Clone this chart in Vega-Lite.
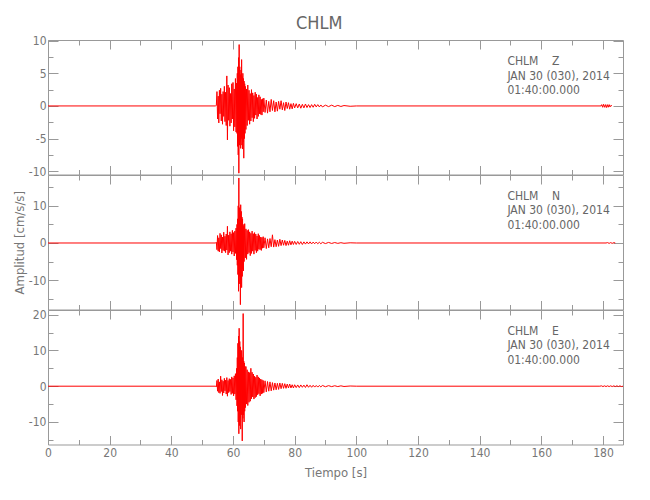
{
  "$schema": "https://vega.github.io/schema/vega-lite/v6.json",
  "background": "white",
  "padding": {"left": 12, "top": 14, "right": 5, "bottom": 5},
  "title": {"text": "CHLM", "fontSize": 18, "font": "Liberation Sans Narrow, DejaVu Sans Condensed, sans-serif", "fontWeight": "normal", "color": "#666666", "anchor": "middle", "offset": 1.5},
  "spacing": 0,
  "bounds": "flush",
  "config": {
    "view": {"stroke": "#999999", "strokeWidth": 1},
    "axis": {"domain": false, "grid": false, "tickColor": "#999999", "tickWidth": 1, "labelColor": "#777777", "labelFont": "Liberation Sans Narrow, DejaVu Sans Condensed, sans-serif", "labelFontSize": 12, "titleFont": "Liberation Sans Narrow, DejaVu Sans Condensed, sans-serif", "titleFontSize": 13, "titleFontWeight": "normal", "titleColor": "#777777", "minExtent": 0, "labelFlush": false, "labelOverlap": false, "labelBound": false}
  },
  "datasets": {
    "Z": [
      {"t":0,"a":0},{"t":54.4,"a":0},{"t":54.6,"a":0.1},{"t":54.8,"a":2.2},{"t":55.0,"a":-2.0},{"t":55.2,"a":1.5},{"t":55.4,"a":-2.6},{"t":55.6,"a":2.4},{"t":55.8,"a":-1.2},{"t":56.0,"a":2.7},{"t":56.2,"a":-2.3},{"t":56.4,"a":1.8},{"t":56.6,"a":-2.8},{"t":56.8,"a":2.2},{"t":57.0,"a":-1.6},{"t":57.2,"a":3.0},{"t":57.4,"a":-2.4},{"t":57.6,"a":2.1},{"t":57.8,"a":-3.0},{"t":58.0,"a":4.6},{"t":58.2,"a":-5.2},{"t":58.4,"a":3.2},{"t":58.6,"a":-2.2},{"t":58.8,"a":2.8},{"t":59.0,"a":-3.1},{"t":59.2,"a":1.9},{"t":59.4,"a":-2.6},{"t":59.6,"a":3.4},{"t":59.8,"a":-2.0},{"t":60.0,"a":3.6},{"t":60.2,"a":-3.8},{"t":60.4,"a":2.6},{"t":60.6,"a":-3.2},{"t":60.8,"a":4.2},{"t":61.0,"a":-4.0},{"t":61.2,"a":3.5},{"t":61.3,"a":-4.2},{"t":61.4,"a":5.0},{"t":61.5,"a":-6.2},{"t":61.6,"a":6.0},{"t":61.7,"a":-7.5},{"t":61.8,"a":7.4},{"t":61.9,"a":-10.3},{"t":62.0,"a":9.4},{"t":62.1,"a":-6.0},{"t":62.2,"a":6.0},{"t":62.3,"a":-5.5},{"t":62.4,"a":4.8},{"t":62.5,"a":-6.5},{"t":62.6,"a":5.5},{"t":62.7,"a":-5.0},{"t":62.8,"a":7.1},{"t":62.9,"a":-6.0},{"t":63.0,"a":4.5},{"t":63.1,"a":-6.6},{"t":63.2,"a":5.0},{"t":63.3,"a":-5.5},{"t":63.4,"a":4.2},{"t":63.5,"a":-8.0},{"t":63.6,"a":3.8},{"t":63.7,"a":-5.0},{"t":63.8,"a":3.4},{"t":63.9,"a":-4.2},{"t":64.0,"a":3.0},{"t":64.2,"a":-3.6},{"t":64.4,"a":2.6},{"t":64.6,"a":-3.0},{"t":64.8,"a":3.2},{"t":65.0,"a":-2.2},{"t":65.2,"a":2.4},{"t":65.4,"a":-2.8},{"t":65.6,"a":1.9},{"t":65.8,"a":-2.3},{"t":66.0,"a":2.5},{"t":66.2,"a":-1.8},{"t":66.4,"a":2.0},{"t":66.6,"a":-2.4},{"t":66.8,"a":1.6},{"t":67.0,"a":-1.9},{"t":67.2,"a":2.1},{"t":67.4,"a":-1.4},{"t":67.6,"a":1.8},{"t":67.8,"a":-2.0},{"t":68.0,"a":1.3},{"t":68.2,"a":-1.6},{"t":68.4,"a":1.7},{"t":68.6,"a":-1.2},{"t":68.8,"a":1.4},{"t":69.0,"a":-1.3},{"t":69.2,"a":1.0},{"t":69.4,"a":-1.4},{"t":69.6,"a":1.1},{"t":69.8,"a":-0.9},{"t":70.0,"a":1.2},{"t":70.4,"a":-1.0},{"t":70.8,"a":0.9},{"t":71.2,"a":-1.1},{"t":71.6,"a":0.7},{"t":72.0,"a":-0.9},{"t":72.4,"a":1.0},{"t":72.8,"a":-0.7},{"t":73.2,"a":0.8},{"t":73.6,"a":-0.9},{"t":74.0,"a":0.6},{"t":74.4,"a":-0.8},{"t":74.8,"a":0.7},{"t":75.2,"a":-0.5},{"t":75.6,"a":0.8},{"t":76.0,"a":-0.6},{"t":76.4,"a":0.5},{"t":76.8,"a":-0.7},{"t":77.2,"a":0.6},{"t":77.6,"a":-0.4},{"t":78.0,"a":0.5},{"t":78.4,"a":-0.5},{"t":78.8,"a":0.35},{"t":79.2,"a":-0.45},{"t":79.6,"a":0.4},{"t":80.0,"a":-0.3},{"t":80.5,"a":0.35},{"t":81.0,"a":-0.3},{"t":81.5,"a":0.3},{"t":82.0,"a":-0.35},{"t":82.5,"a":0.25},{"t":83.0,"a":-0.3},{"t":83.5,"a":0.3},{"t":84.0,"a":-0.25},{"t":84.5,"a":0.2},{"t":85.0,"a":-0.25},{"t":85.5,"a":0.2},{"t":86.0,"a":-0.2},{"t":86.5,"a":0.25},{"t":87.0,"a":-0.15},{"t":87.5,"a":0.2},{"t":88.0,"a":-0.15},{"t":88.5,"a":0.15},{"t":89.0,"a":-0.15},{"t":90.0,"a":0.12},{"t":91.0,"a":-0.1},{"t":92.0,"a":0.12},{"t":93.0,"a":-0.1},{"t":94.0,"a":0.08},{"t":95.0,"a":-0.08},{"t":96.0,"a":0.06},{"t":98.0,"a":-0.05},{"t":100.0,"a":0},{"t":179.4,"a":0},{"t":179.6,"a":0.2},{"t":179.9,"a":-0.2},{"t":180.2,"a":0.25},{"t":180.5,"a":-0.2},{"t":180.8,"a":0.2},{"t":181.1,"a":-0.25},{"t":181.4,"a":0.2},{"t":181.7,"a":-0.2},{"t":182.0,"a":0.2},{"t":182.3,"a":-0.15},{"t":182.6,"a":0.1},{"t":182.9,"a":0}
    ],
    "N": [
      {"t":0,"a":0},{"t":54.4,"a":0},{"t":54.6,"a":0.2},{"t":54.8,"a":-1.8},{"t":55.0,"a":2.0},{"t":55.2,"a":-2.2},{"t":55.4,"a":1.4},{"t":55.6,"a":-2.4},{"t":55.8,"a":2.6},{"t":56.0,"a":-1.5},{"t":56.2,"a":2.2},{"t":56.4,"a":-2.7},{"t":56.6,"a":1.6},{"t":56.8,"a":-2.0},{"t":57.0,"a":2.9},{"t":57.2,"a":-2.2},{"t":57.4,"a":1.8},{"t":57.6,"a":-2.6},{"t":57.8,"a":2.4},{"t":58.0,"a":-1.9},{"t":58.2,"a":4.5},{"t":58.4,"a":-3.2},{"t":58.6,"a":2.1},{"t":58.8,"a":-2.6},{"t":59.0,"a":3.0},{"t":59.2,"a":-2.2},{"t":59.4,"a":2.5},{"t":59.6,"a":-3.0},{"t":59.8,"a":3.4},{"t":60.0,"a":-2.4},{"t":60.2,"a":2.8},{"t":60.4,"a":-3.5},{"t":60.6,"a":3.2},{"t":60.8,"a":-2.8},{"t":61.0,"a":4.0},{"t":61.2,"a":-4.5},{"t":61.3,"a":5.0},{"t":61.4,"a":-6.0},{"t":61.5,"a":6.5},{"t":61.6,"a":-8.5},{"t":61.7,"a":10.0},{"t":61.8,"a":-13.0},{"t":61.9,"a":17.5},{"t":62.0,"a":-9.0},{"t":62.1,"a":9.5},{"t":62.2,"a":-11.0},{"t":62.3,"a":8.0},{"t":62.4,"a":-16.6},{"t":62.5,"a":10.3},{"t":62.6,"a":-10.0},{"t":62.7,"a":8.5},{"t":62.8,"a":-12.0},{"t":62.9,"a":7.0},{"t":63.0,"a":-9.0},{"t":63.1,"a":6.5},{"t":63.2,"a":-7.0},{"t":63.3,"a":5.0},{"t":63.4,"a":-7.5},{"t":63.5,"a":4.5},{"t":63.6,"a":-5.0},{"t":63.8,"a":5.2},{"t":64.0,"a":-4.0},{"t":64.2,"a":3.8},{"t":64.4,"a":-4.4},{"t":64.6,"a":3.4},{"t":64.8,"a":-3.0},{"t":65.0,"a":3.6},{"t":65.2,"a":-2.6},{"t":65.4,"a":3.0},{"t":65.6,"a":-3.4},{"t":65.8,"a":2.6},{"t":66.0,"a":-2.8},{"t":66.2,"a":3.2},{"t":66.4,"a":-2.2},{"t":66.6,"a":2.5},{"t":66.8,"a":-3.0},{"t":67.0,"a":2.8},{"t":67.2,"a":-2.0},{"t":67.4,"a":2.4},{"t":67.6,"a":-2.6},{"t":67.8,"a":1.9},{"t":68.0,"a":-2.2},{"t":68.2,"a":2.5},{"t":68.4,"a":-1.7},{"t":68.6,"a":2.0},{"t":68.8,"a":-1.8},{"t":69.0,"a":1.6},{"t":69.2,"a":-2.0},{"t":69.4,"a":1.5},{"t":69.6,"a":-1.4},{"t":69.8,"a":1.7},{"t":70.0,"a":-1.3},{"t":70.4,"a":1.4},{"t":70.8,"a":-1.5},{"t":71.2,"a":1.1},{"t":71.6,"a":-1.3},{"t":72.0,"a":1.2},{"t":72.4,"a":-1.0},{"t":72.8,"a":2.2},{"t":73.2,"a":-1.1},{"t":73.6,"a":0.9},{"t":74.0,"a":-1.0},{"t":74.4,"a":0.8},{"t":74.8,"a":-0.9},{"t":75.2,"a":1.0},{"t":75.6,"a":-0.7},{"t":76.0,"a":0.8},{"t":76.4,"a":-0.6},{"t":76.8,"a":0.7},{"t":77.2,"a":-0.7},{"t":77.6,"a":0.5},{"t":78.0,"a":-0.6},{"t":78.4,"a":0.6},{"t":78.8,"a":-0.5},{"t":79.2,"a":0.5},{"t":79.6,"a":-0.4},{"t":80.0,"a":0.45},{"t":80.5,"a":-0.4},{"t":81.0,"a":0.4},{"t":81.5,"a":-0.35},{"t":82.0,"a":0.35},{"t":82.5,"a":-0.4},{"t":83.0,"a":0.3},{"t":83.5,"a":-0.3},{"t":84.0,"a":0.3},{"t":84.5,"a":-0.25},{"t":85.0,"a":0.3},{"t":85.5,"a":-0.25},{"t":86.0,"a":0.25},{"t":86.5,"a":-0.2},{"t":87.0,"a":0.25},{"t":87.5,"a":-0.2},{"t":88.0,"a":0.2},{"t":88.5,"a":-0.2},{"t":89.0,"a":0.18},{"t":90.0,"a":-0.15},{"t":91.0,"a":0.15},{"t":92.0,"a":-0.12},{"t":93.0,"a":0.12},{"t":94.0,"a":-0.1},{"t":95.0,"a":0.08},{"t":96.0,"a":-0.08},{"t":98.0,"a":0.05},{"t":100.0,"a":0},{"t":181.0,"a":0},{"t":181.5,"a":0.1},{"t":182.0,"a":-0.1},{"t":182.5,"a":0.1},{"t":183.0,"a":-0.1},{"t":183.5,"a":0.1},{"t":184.0,"a":0}
    ],
    "E": [
      {"t":0,"a":0},{"t":54.4,"a":0},{"t":54.6,"a":-0.2},{"t":54.8,"a":1.6},{"t":55.0,"a":-1.4},{"t":55.2,"a":2.0},{"t":55.4,"a":-1.8},{"t":55.6,"a":1.2},{"t":55.8,"a":-2.0},{"t":56.0,"a":2.8},{"t":56.2,"a":-1.5},{"t":56.4,"a":1.8},{"t":56.6,"a":-2.6},{"t":56.8,"a":1.4},{"t":57.0,"a":-1.9},{"t":57.2,"a":2.2},{"t":57.4,"a":-1.3},{"t":57.6,"a":1.7},{"t":57.8,"a":-2.2},{"t":58.0,"a":2.4},{"t":58.2,"a":-2.8},{"t":58.4,"a":1.6},{"t":58.6,"a":-1.8},{"t":58.8,"a":2.1},{"t":59.0,"a":-1.5},{"t":59.2,"a":1.9},{"t":59.4,"a":-2.3},{"t":59.6,"a":2.6},{"t":59.8,"a":-2.0},{"t":60.0,"a":2.3},{"t":60.2,"a":-2.7},{"t":60.4,"a":2.9},{"t":60.6,"a":-2.2},{"t":60.8,"a":3.5},{"t":61.0,"a":-3.8},{"t":61.2,"a":5.0},{"t":61.3,"a":-5.5},{"t":61.4,"a":8.0},{"t":61.5,"a":-7.0},{"t":61.6,"a":12.0},{"t":61.7,"a":-10.0},{"t":61.8,"a":14.0},{"t":61.9,"a":-13.3},{"t":62.0,"a":16.2},{"t":62.1,"a":-11.0},{"t":62.2,"a":12.5},{"t":62.3,"a":-9.0},{"t":62.4,"a":11.0},{"t":62.5,"a":-12.0},{"t":62.6,"a":9.0},{"t":62.7,"a":-8.0},{"t":62.8,"a":10.0},{"t":62.9,"a":7.5},{"t":63.0,"a":-15.3},{"t":63.1,"a":8.0},{"t":63.2,"a":-9.0},{"t":63.3,"a":20.3},{"t":63.4,"a":-8.0},{"t":63.5,"a":7.0},{"t":63.6,"a":-10.0},{"t":63.7,"a":6.5},{"t":63.8,"a":-7.0},{"t":63.9,"a":5.5},{"t":64.0,"a":-6.0},{"t":64.2,"a":5.5},{"t":64.4,"a":-5.0},{"t":64.6,"a":4.6},{"t":64.8,"a":-5.4},{"t":65.0,"a":4.0},{"t":65.2,"a":-4.5},{"t":65.4,"a":3.8},{"t":65.6,"a":-4.2},{"t":65.8,"a":5.0},{"t":66.0,"a":-3.5},{"t":66.2,"a":3.9},{"t":66.4,"a":-3.0},{"t":66.6,"a":3.4},{"t":66.8,"a":-3.6},{"t":67.0,"a":2.8},{"t":67.2,"a":-3.2},{"t":67.4,"a":2.5},{"t":67.6,"a":-2.9},{"t":67.8,"a":3.1},{"t":68.0,"a":-2.4},{"t":68.2,"a":2.6},{"t":68.4,"a":-2.1},{"t":68.6,"a":2.3},{"t":68.8,"a":-2.7},{"t":69.0,"a":2.0},{"t":69.2,"a":-2.2},{"t":69.4,"a":1.8},{"t":69.6,"a":-2.0},{"t":69.8,"a":1.6},{"t":70.0,"a":-1.8},{"t":70.4,"a":1.5},{"t":70.8,"a":-1.6},{"t":71.2,"a":1.3},{"t":71.6,"a":-1.4},{"t":72.0,"a":1.2},{"t":72.4,"a":-1.3},{"t":72.8,"a":1.0},{"t":73.2,"a":-1.1},{"t":73.6,"a":0.9},{"t":74.0,"a":-1.0},{"t":74.4,"a":0.8},{"t":74.8,"a":-0.9},{"t":75.2,"a":0.9},{"t":75.6,"a":-0.7},{"t":76.0,"a":0.8},{"t":76.4,"a":-0.6},{"t":76.8,"a":0.7},{"t":77.2,"a":-0.6},{"t":77.6,"a":0.6},{"t":78.0,"a":-0.5},{"t":78.4,"a":0.6},{"t":78.8,"a":-0.5},{"t":79.2,"a":0.4},{"t":79.6,"a":-0.5},{"t":80.0,"a":0.4},{"t":80.5,"a":-0.4},{"t":81.0,"a":0.35},{"t":81.5,"a":-0.4},{"t":82.0,"a":0.35},{"t":82.5,"a":-0.3},{"t":83.0,"a":0.3},{"t":83.5,"a":-0.35},{"t":84.0,"a":0.4},{"t":84.5,"a":-0.3},{"t":85.0,"a":0.25},{"t":85.5,"a":-0.3},{"t":86.0,"a":0.25},{"t":86.5,"a":-0.25},{"t":87.0,"a":0.2},{"t":87.5,"a":-0.25},{"t":88.0,"a":0.2},{"t":88.5,"a":-0.2},{"t":89.0,"a":0.2},{"t":90.0,"a":-0.15},{"t":91.0,"a":0.15},{"t":92.0,"a":-0.12},{"t":93.0,"a":0.12},{"t":94.0,"a":-0.1},{"t":95.0,"a":0.1},{"t":96.0,"a":-0.08},{"t":98.0,"a":0.05},{"t":100.0,"a":0},{"t":179.0,"a":0},{"t":179.5,"a":0.1},{"t":180.0,"a":-0.1},{"t":180.5,"a":0.1},{"t":181.0,"a":-0.1},{"t":181.5,"a":0.1},{"t":182.0,"a":-0.1},{"t":182.5,"a":0.1},{"t":183.0,"a":-0.1},{"t":183.5,"a":0.1},{"t":184.0,"a":-0.1},{"t":184.5,"a":0.1},{"t":185.0,"a":-0.1},{"t":185.5,"a":0.1},{"t":186.0,"a":-0.1},{"t":186.5,"a":0}
    ],
    "ann": [
      {"p":"Z","t":149,"a":6.88,"s":"CHLM\u00a0\u00a0\u00a0\u00a0Z"},
      {"p":"Z","t":149,"a":4.66,"s":"JAN 30 (030), 2014"},
      {"p":"Z","t":149,"a":2.44,"s":"01:40:00.000"},
      {"p":"N","t":149,"a":12.65,"s":"CHLM\u00a0\u00a0\u00a0\u00a0N"},
      {"p":"N","t":149,"a":8.75,"s":"JAN 30 (030), 2014"},
      {"p":"N","t":149,"a":4.84,"s":"01:40:00.000"},
      {"p":"E","t":149,"a":15.43,"s":"CHLM\u00a0\u00a0\u00a0\u00a0E"},
      {"p":"E","t":149,"a":11.38,"s":"JAN 30 (030), 2014"},
      {"p":"E","t":149,"a":7.32,"s":"01:40:00.000"}
    ]
  },
  "vconcat": [
    {
      "width": 575, "height": 134.5,
      "layer": [
        {
          "data": {"name": "Z"},
          "mark": {"type": "line", "color": "#ff0000", "strokeWidth": 1},
          "encoding": {
            "x": {"field": "t", "type": "quantitative", "scale": {"domain": [0, 186.5], "nice": false, "zero": false},
                  "axis": {"orient": "bottom", "title": null, "labels": false, "values": [0,10,20,30,40,50,60,70,80,90,100,110,120,130,140,150,160,170,180], "tickSize": {"condition": {"test": "datum.value % 20 === 0", "value": -9}, "value": -5}}},
            "y": {"field": "a", "type": "quantitative", "scale": {"domain": [-10.5, 10.1], "nice": false, "zero": false},
                  "axis": {"orient": "left", "title": null, "values": [-10,-7.5,-5,-2.5,0,2.5,5,7.5,10], "labelExpr": "datum.value % 5 === 0 ? replace(datum.label, '−', '-') : ''", "labelPadding": 12, "tickSize": {"condition": {"test": "datum.value % 5 === 0", "value": -10}, "value": -5}}}
          }
        },
        {
          "data": {"name": "ann"},
          "transform": [{"filter": "datum.p === 'Z'"}],
          "mark": {"type": "text", "align": "left", "baseline": "middle", "font": "Liberation Sans Narrow, DejaVu Sans Condensed, sans-serif", "fontSize": 12, "color": "#666666"},
          "encoding": {
            "x": {"field": "t", "type": "quantitative", "axis": {"orient": "top", "title": null, "labels": false, "values": [0,10,20,30,40,50,60,70,80,90,100,110,120,130,140,150,160,170,180], "tickSize": {"condition": {"test": "datum.value % 20 === 0", "value": -9}, "value": -5}}},
            "y": {"field": "a", "type": "quantitative", "axis": {"orient": "right", "title": null, "labels": false, "values": [-10,-7.5,-5,-2.5,0,2.5,5,7.5,10], "tickSize": {"condition": {"test": "datum.value % 5 === 0", "value": -10}, "value": -5}}},
            "text": {"field": "s", "type": "nominal"}
          }
        }
      ],
      "resolve": {"axis": {"x": "independent", "y": "independent"}}
    },
    {
      "width": 575, "height": 134.5,
      "layer": [
        {
          "data": {"name": "N"},
          "mark": {"type": "line", "color": "#ff0000", "strokeWidth": 1},
          "encoding": {
            "x": {"field": "t", "type": "quantitative", "scale": {"domain": [0, 186.5], "nice": false, "zero": false},
                  "axis": {"orient": "bottom", "title": null, "labels": false, "values": [0,10,20,30,40,50,60,70,80,90,100,110,120,130,140,150,160,170,180], "tickSize": {"condition": {"test": "datum.value % 20 === 0", "value": -9}, "value": -5}}},
            "y": {"field": "a", "type": "quantitative", "scale": {"domain": [-17.9, 18.3], "nice": false, "zero": false},
                  "axis": {"orient": "left", "title": "Amplitud [cm/s/s]", "titlePadding": 2, "values": [-15,-10,-5,0,5,10,15], "labelExpr": "datum.value % 10 === 0 ? replace(datum.label, '−', '-') : ''", "labelPadding": 12, "tickSize": {"condition": {"test": "datum.value % 10 === 0", "value": -10}, "value": -5}}}
          }
        },
        {
          "data": {"name": "ann"},
          "transform": [{"filter": "datum.p === 'N'"}],
          "mark": {"type": "text", "align": "left", "baseline": "middle", "font": "Liberation Sans Narrow, DejaVu Sans Condensed, sans-serif", "fontSize": 12, "color": "#666666"},
          "encoding": {
            "x": {"field": "t", "type": "quantitative", "axis": {"orient": "top", "title": null, "labels": false, "values": [0,10,20,30,40,50,60,70,80,90,100,110,120,130,140,150,160,170,180], "tickSize": {"condition": {"test": "datum.value % 20 === 0", "value": -9}, "value": -5}}},
            "y": {"field": "a", "type": "quantitative", "axis": {"orient": "right", "title": null, "labels": false, "values": [-15,-10,-5,0,5,10,15], "tickSize": {"condition": {"test": "datum.value % 10 === 0", "value": -10}, "value": -5}}},
            "text": {"field": "s", "type": "nominal"}
          }
        }
      ],
      "resolve": {"axis": {"x": "independent", "y": "independent"}}
    },
    {
      "width": 575, "height": 134.5,
      "layer": [
        {
          "data": {"name": "E"},
          "mark": {"type": "line", "color": "#ff0000", "strokeWidth": 1},
          "encoding": {
            "x": {"field": "t", "type": "quantitative", "scale": {"domain": [0, 186.5], "nice": false, "zero": false},
                  "axis": {"orient": "bottom", "title": "Tiempo [s]", "titlePadding": 4, "values": [0,10,20,30,40,50,60,70,80,90,100,110,120,130,140,150,160,170,180], "labelExpr": "datum.value % 20 === 0 ? datum.label : ''", "labelPadding": 12, "tickSize": {"condition": {"test": "datum.value % 20 === 0", "value": -9}, "value": -5}}},
            "y": {"field": "a", "type": "quantitative", "scale": {"domain": [-16.3, 21.3], "nice": false, "zero": false},
                  "axis": {"orient": "left", "title": null, "values": [-15,-10,-5,0,5,10,15,20], "labelExpr": "datum.value % 10 === 0 ? replace(datum.label, '−', '-') : ''", "labelPadding": 12, "tickSize": {"condition": {"test": "datum.value % 10 === 0", "value": -10}, "value": -5}}}
          }
        },
        {
          "data": {"name": "ann"},
          "transform": [{"filter": "datum.p === 'E'"}],
          "mark": {"type": "text", "align": "left", "baseline": "middle", "font": "Liberation Sans Narrow, DejaVu Sans Condensed, sans-serif", "fontSize": 12, "color": "#666666"},
          "encoding": {
            "x": {"field": "t", "type": "quantitative", "axis": {"orient": "top", "title": null, "labels": false, "values": [0,10,20,30,40,50,60,70,80,90,100,110,120,130,140,150,160,170,180], "tickSize": {"condition": {"test": "datum.value % 20 === 0", "value": -9}, "value": -5}}},
            "y": {"field": "a", "type": "quantitative", "axis": {"orient": "right", "title": null, "labels": false, "values": [-15,-10,-5,0,5,10,15,20], "tickSize": {"condition": {"test": "datum.value % 10 === 0", "value": -10}, "value": -5}}},
            "text": {"field": "s", "type": "nominal"}
          }
        }
      ],
      "resolve": {"axis": {"x": "independent", "y": "independent"}}
    }
  ]
}
